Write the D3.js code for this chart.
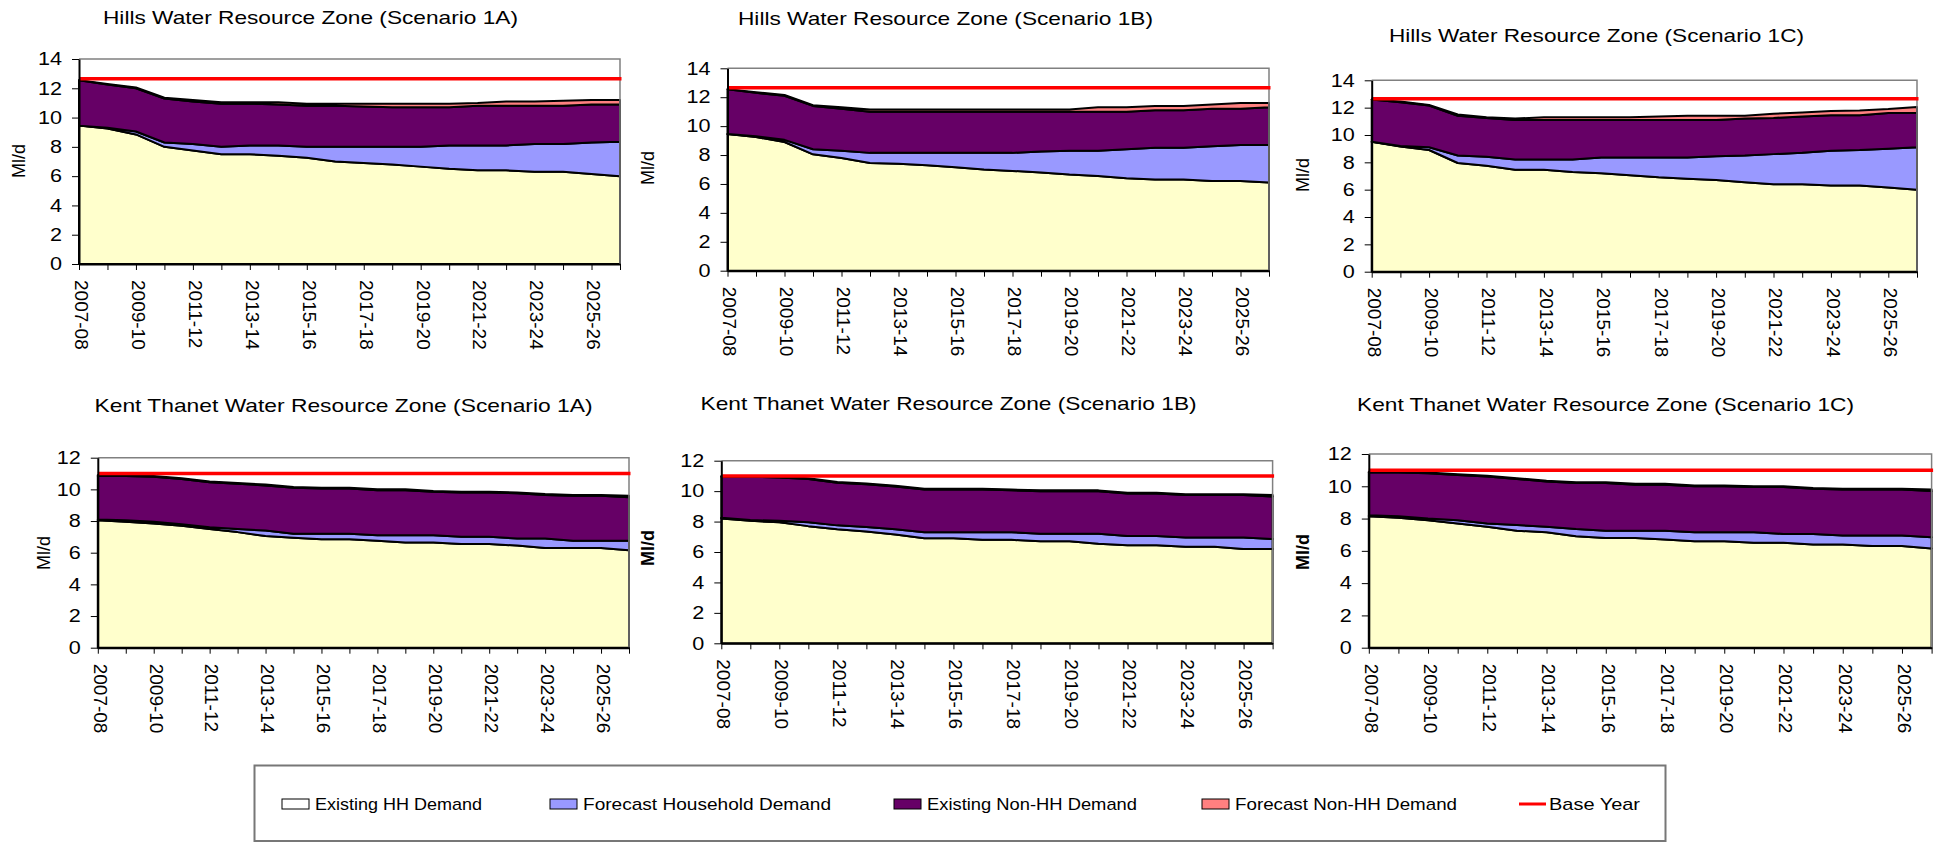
<!DOCTYPE html>
<html><head><meta charset="utf-8">
<script src="https://cdn.jsdelivr.net/npm/d3@7"></script>
<style>html,body{margin:0;padding:0;background:#fff;overflow:hidden}
text{font-family:"Liberation Sans",Arial,sans-serif;fill:#000}</style>
</head><body>
<svg id="chart" width="1937" height="842"></svg>
<script>
// ---------- DATA ----------
const categories = ["2007-08","2008-09","2009-10","2010-11","2011-12","2012-13","2013-14","2014-15","2015-16","2016-17",
  "2017-18","2018-19","2019-20","2020-21","2021-22","2022-23","2023-24","2024-25","2025-26","2026-27"];
const tickLabels = ["2007-08","2009-10","2011-12","2013-14","2015-16","2017-18","2019-20","2021-22","2023-24","2025-26"];
const seriesNames = ["Existing HH Demand","Forecast Household Demand","Existing Non-HH Demand","Forecast Non-HH Demand"];
const baseYearName = "Base Year";
const titles = ["Hills Water Resource Zone (Scenario 1A)","Hills Water Resource Zone (Scenario 1B)","Hills Water Resource Zone (Scenario 1C)",
  "Kent Thanet Water Resource Zone (Scenario 1A)","Kent Thanet Water Resource Zone (Scenario 1B)","Kent Thanet Water Resource Zone (Scenario 1C)"];
const yAxisLabel = "Ml/d";
const hillsYTicks = [0,2,4,6,8,10,12,14];
const kentYTicks = [0,2,4,6,8,10,12];
const hillsBaseYear = 12.65;
const kentBaseYear = 11.0;

// Hills 1A
const hills1AExistingHH    = [9.45,9.25,8.85,8.0,7.75,7.5,7.5,7.4,7.25,7.0,6.9,6.8,6.65,6.5,6.4,6.4,6.3,6.3,6.15,6.0];
const hills1AForecastHH    = [0,0.05,0.2,0.3,0.45,0.5,0.6,0.7,0.75,1.0,1.1,1.2,1.35,1.6,1.7,1.7,1.9,1.9,2.15,2.35];
const hills1AExistingNonHH = [3.1,2.95,2.95,3.0,2.9,2.95,2.85,2.8,2.8,2.8,2.75,2.7,2.7,2.6,2.7,2.7,2.6,2.6,2.6,2.55];
const hills1AForecastNonHH = [0,0.05,0.05,0.05,0.1,0.1,0.1,0.15,0.15,0.15,0.2,0.25,0.25,0.25,0.2,0.3,0.3,0.35,0.3,0.3];
// Hills 1B
const hills1BExistingHH    = [9.45,9.25,8.9,8.05,7.8,7.45,7.4,7.3,7.15,7.0,6.9,6.8,6.65,6.55,6.4,6.3,6.3,6.2,6.2,6.1];
const hills1BForecastHH    = [0,0.05,0.15,0.35,0.5,0.7,0.75,0.85,1.0,1.15,1.25,1.45,1.65,1.75,2.0,2.2,2.2,2.4,2.5,2.6];
const hills1BExistingNonHH = [3.1,3.0,3.05,3.0,2.9,2.85,2.85,2.85,2.85,2.85,2.85,2.75,2.7,2.7,2.6,2.6,2.6,2.6,2.5,2.6];
const hills1BForecastNonHH = [0,0.05,0.05,0.05,0.1,0.15,0.15,0.15,0.15,0.15,0.15,0.15,0.15,0.3,0.3,0.3,0.3,0.3,0.4,0.3];
// Hills 1C
const hills1CExistingHH    = [9.5,9.15,8.9,7.95,7.75,7.45,7.45,7.3,7.2,7.05,6.9,6.8,6.7,6.55,6.4,6.4,6.3,6.3,6.15,6.0];
const hills1CForecastHH    = [0,0.05,0.2,0.55,0.65,0.75,0.75,0.9,1.15,1.3,1.45,1.55,1.75,1.95,2.2,2.3,2.55,2.6,2.85,3.1];
const hills1CExistingNonHH = [3.1,3.2,3.05,2.9,2.85,2.9,2.9,2.9,2.75,2.75,2.75,2.75,2.65,2.7,2.65,2.65,2.6,2.55,2.6,2.5];
const hills1CForecastNonHH = [0,0.05,0.05,0.1,0.05,0.1,0.2,0.2,0.2,0.2,0.25,0.3,0.3,0.2,0.3,0.3,0.3,0.35,0.3,0.45];
// Kent Thanet 1A
const kent1AExistingHH    = [8.05,7.95,7.85,7.7,7.5,7.3,7.05,6.95,6.85,6.85,6.75,6.65,6.65,6.55,6.55,6.45,6.3,6.3,6.3,6.15];
const kent1AForecastHH    = [0.05,0.1,0.1,0.1,0.1,0.2,0.35,0.25,0.35,0.35,0.35,0.45,0.45,0.45,0.45,0.45,0.6,0.45,0.45,0.6];
const kent1AExistingNonHH = [2.75,2.8,2.85,2.85,2.85,2.85,2.85,2.9,2.85,2.85,2.85,2.85,2.75,2.8,2.8,2.85,2.75,2.85,2.85,2.75];
const kent1AForecastNonHH = [0.05,0.05,0.05,0.05,0.05,0.05,0.05,0.05,0.05,0.05,0.05,0.05,0.05,0.05,0.05,0.05,0.05,0.05,0.05,0.1];
// Kent Thanet 1B
const kent1BExistingHH    = [8.2,8.05,7.95,7.7,7.5,7.35,7.15,6.9,6.9,6.8,6.8,6.7,6.7,6.55,6.45,6.45,6.35,6.35,6.2,6.2];
const kent1BForecastHH    = [0.05,0.05,0.1,0.25,0.25,0.3,0.35,0.4,0.4,0.5,0.5,0.5,0.5,0.65,0.6,0.6,0.6,0.6,0.75,0.65];
const kent1BExistingNonHH = [2.7,2.85,2.85,2.85,2.8,2.8,2.8,2.8,2.8,2.8,2.75,2.8,2.8,2.8,2.8,2.8,2.8,2.8,2.8,2.8];
const kent1BForecastNonHH = [0.05,0.05,0.05,0.05,0.05,0.05,0.05,0.05,0.05,0.05,0.05,0.05,0.05,0.05,0.05,0.05,0.05,0.05,0.05,0.1];
// Kent Thanet 1C
const kent1CExistingHH    = [8.15,8.05,7.9,7.7,7.5,7.25,7.15,6.9,6.8,6.8,6.7,6.6,6.6,6.5,6.5,6.4,6.4,6.3,6.3,6.15];
const kent1CForecastHH    = [0.05,0.1,0.1,0.2,0.2,0.35,0.35,0.45,0.45,0.45,0.55,0.55,0.55,0.65,0.55,0.65,0.55,0.65,0.65,0.7];
const kent1CExistingNonHH = [2.65,2.7,2.8,2.8,2.9,2.85,2.8,2.85,2.95,2.85,2.85,2.85,2.85,2.8,2.9,2.8,2.85,2.85,2.85,2.85];
const kent1CForecastNonHH = [0.05,0.05,0.05,0.05,0.05,0.05,0.05,0.05,0.05,0.05,0.05,0.05,0.05,0.05,0.05,0.05,0.05,0.05,0.05,0.1];

// ---------- STYLE / LAYOUT ----------
const colors = ["#FFFFCC","#9999FF","#660066","#FF8080"];
const legendSwatchFill = ["#FFFFFF","#9999FF","#660066","#FF8080"];
const baseColor = "#FF0000";

const panelSeries = [
  [hills1AExistingHH,hills1AForecastHH,hills1AExistingNonHH,hills1AForecastNonHH],
  [hills1BExistingHH,hills1BForecastHH,hills1BExistingNonHH,hills1BForecastNonHH],
  [hills1CExistingHH,hills1CForecastHH,hills1CExistingNonHH,hills1CForecastNonHH],
  [kent1AExistingHH,kent1AForecastHH,kent1AExistingNonHH,kent1AForecastNonHH],
  [kent1BExistingHH,kent1BForecastHH,kent1BExistingNonHH,kent1BForecastNonHH],
  [kent1CExistingHH,kent1CForecastHH,kent1CExistingNonHH,kent1CForecastNonHH]
];
const panelBase = [hillsBaseYear,hillsBaseYear,hillsBaseYear,kentBaseYear,kentBaseYear,kentBaseYear];
const panelTicks = [hillsYTicks,hillsYTicks,hillsYTicks,kentYTicks,kentYTicks,kentYTicks];

const layouts = [
  {x0:79,   x1:620,   y0:59,    y1:264,   tx:103,   tw:415, ty:17,  lx:19,   ly:161, bold:false},
  {x0:727.5,x1:1269,  y0:68.3,  y1:270.7, tx:738,   tw:415, ty:18.5,lx:648,  ly:168, bold:false},
  {x0:1371.7,x1:1917, y0:80.3,  y1:271.7, tx:1389,  tw:415, ty:35,  lx:1303, ly:175, bold:false},
  {x0:97.8, x1:629,   y0:457.7, y1:647.7, tx:94.5,  tw:498, ty:405, lx:43.5, ly:553, bold:false},
  {x0:721.3,x1:1272.6,y0:460.7, y1:643.3, tx:700.6, tw:496, ty:403, lx:648,  ly:548, bold:true},
  {x0:1368.8,x1:1931.6,y0:454,  y1:647.7, tx:1357,  tw:497, ty:404, lx:1303, ly:552, bold:true}
];

const svg = d3.select("#chart");
svg.append("rect").attr("width",1937).attr("height",842).attr("fill","#fff");

panelSeries.forEach((series, p) => {
  const L = layouts[p];
  const ticks = panelTicks[p];
  const yMax = d3.max(ticks);
  const g = svg.append("g");
  const x = d3.scalePoint().domain(categories).range([L.x0, L.x1]);
  const y = d3.scaleLinear().domain([0, yMax]).range([L.y1, L.y0]);

  const keys = seriesNames;
  const rows = categories.map((c, i) => {
    const r = {cat: c};
    keys.forEach((k, j) => r[k] = series[j][i]);
    return r;
  });
  const stacked = d3.stack().keys(keys)(rows);

  // plot background
  g.append("rect").attr("x",L.x0).attr("y",L.y0).attr("width",L.x1-L.x0).attr("height",L.y1-L.y0).attr("fill","#fff");

  const area = d3.area().x(d => x(d.data.cat)).y0(d => y(d[0])).y1(d => y(d[1]));
  g.selectAll("path.layer").data(stacked).join("path")
    .attr("class","layer")
    .attr("d", area)
    .attr("fill", (d,i) => colors[i])
    .attr("stroke", "#000").attr("stroke-width", 2).attr("stroke-linejoin","round");

  // frame top & right
  g.append("path").attr("d", `M${L.x0},${L.y0}H${L.x1}V${L.y1}`)
    .attr("fill","none").attr("stroke","#808080").attr("stroke-width",1.5);

  // base year line
  g.append("line").attr("x1",L.x0).attr("x2",L.x1+1.5)
    .attr("y1",y(panelBase[p])).attr("y2",y(panelBase[p]))
    .attr("stroke",baseColor).attr("stroke-width",3.5);

  // y axis
  const ya = g.append("g").attr("transform",`translate(${L.x0},0)`)
    .call(d3.axisLeft(y).tickValues(ticks).tickSize(7).tickSizeOuter(0).tickPadding(10).tickFormat(d3.format("d")));
  ya.select(".domain").attr("stroke","#000").attr("stroke-width",2);
  ya.selectAll(".tick line").attr("stroke","#000").attr("stroke-width",1);
  ya.selectAll(".tick text").attr("font-size",18).attr("fill","#000").style("font-family","Liberation Sans, Arial, sans-serif")
    .each(function(){ const w = this.getComputedTextLength(); d3.select(this).attr("textLength", w*1.2).attr("lengthAdjust","spacingAndGlyphs"); });

  // x axis
  const xa = g.append("g").attr("transform",`translate(0,${L.y1})`)
    .call(d3.axisBottom(x).tickSize(6).tickSizeOuter(0).tickFormat(d => tickLabels.includes(d) ? d : ""));
  xa.select(".domain").attr("stroke","#000").attr("stroke-width",2);
  xa.selectAll(".tick line").attr("stroke","#000").attr("stroke-width",1);
  xa.selectAll(".tick text")
    .attr("font-size",19).attr("fill","#000").style("font-family","Liberation Sans, Arial, sans-serif")
    .attr("transform","rotate(90)")
    .attr("x",16).attr("y",-2).attr("dy","0.35em")
    .style("text-anchor","start");

  // title
  g.append("text").attr("x",L.tx).attr("y",L.ty).attr("dy","0.35em")
    .attr("font-size",19).attr("textLength",L.tw).attr("lengthAdjust","spacingAndGlyphs")
    .text(titles[p]);

  // y label
  g.append("text").attr("transform",`translate(${L.lx},${L.ly}) rotate(-90)`)
    .attr("text-anchor","middle").attr("dy","0.35em")
    .attr("font-size",18).attr("font-weight", L.bold ? "bold" : "normal")
    .text(yAxisLabel);
});

// ---------- LEGEND ----------
const lg = svg.append("g");
lg.append("rect").attr("x",254.5).attr("y",765.5).attr("width",1411).attr("height",75.5)
  .attr("fill","#fff").attr("stroke","#777").attr("stroke-width",2);
const legY = 804;
const swatchX = [282, 550, 894, 1202];
const textW = [167, 248, 210, 222];
seriesNames.forEach((name, i) => {
  lg.append("rect").attr("x",swatchX[i]).attr("y",legY-5).attr("width",27).attr("height",10)
    .attr("fill",legendSwatchFill[i]).attr("stroke","#000").attr("stroke-width",1);
  lg.append("text").attr("x",swatchX[i]+33).attr("y",legY).attr("dy","0.35em")
    .attr("font-size",17).attr("textLength",textW[i]).attr("lengthAdjust","spacingAndGlyphs").text(name);
});
lg.append("line").attr("x1",1519).attr("x2",1546).attr("y1",legY).attr("y2",legY)
  .attr("stroke",baseColor).attr("stroke-width",3);
lg.append("text").attr("x",1549).attr("y",legY).attr("dy","0.35em")
  .attr("font-size",17).attr("textLength",91).attr("lengthAdjust","spacingAndGlyphs").text(baseYearName);
</script>
</body></html>
